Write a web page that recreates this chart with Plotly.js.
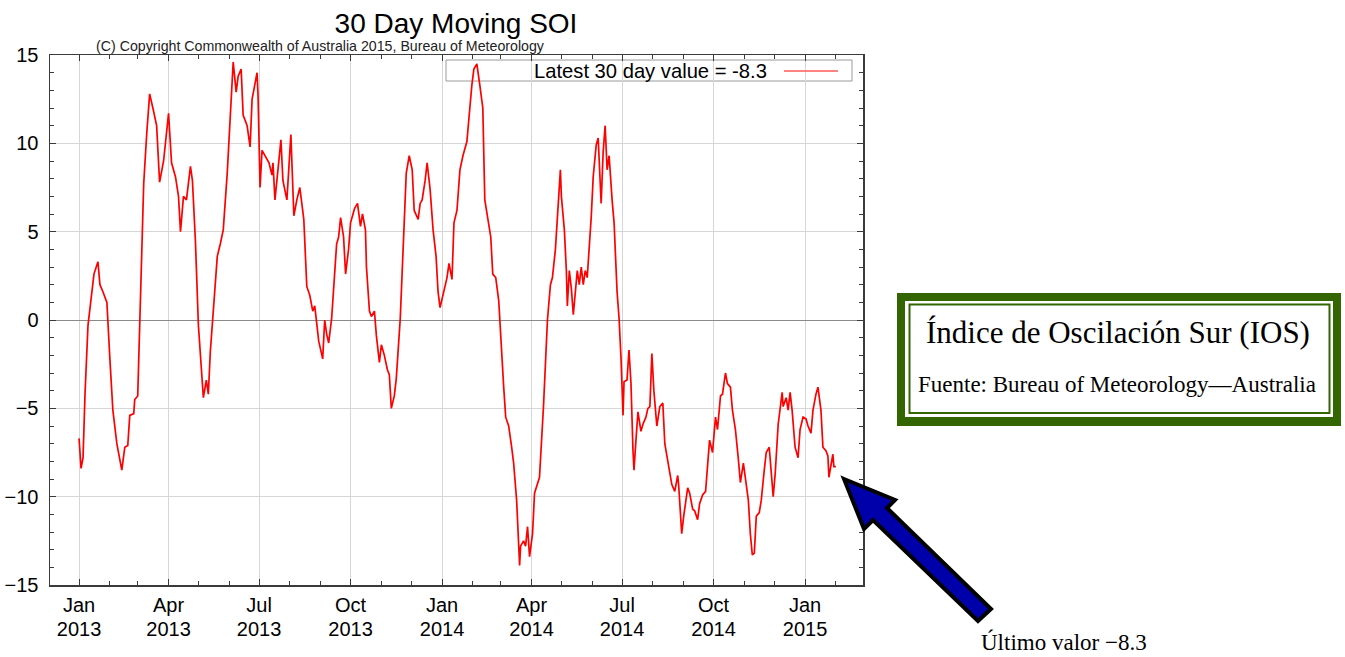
<!DOCTYPE html>
<html>
<head>
<meta charset="utf-8">
<script src="https://cdn.plot.ly/plotly-3.0.1.min.js"></script>
<style>html,body{margin:0;padding:0;background:#fff;}#chart{width:1345px;height:657px;}</style>
</head>
<body>
<div id="chart"></div>
<script>
// Day offsets from 2013-01-01
const days = [0,2,4,6,9,13,15,19,21,24,28,31,34,38,43,46,49,51,55,56,59,61,63,65,68,71,75,78,81,85,90,93,97,100,102,105,108,112,114,117,120,123,125,128,130,132,135,137,139,142,145,149,151,153,155,158,160,163,165,169,172,174,179,180,182,184,186,188,191,194,195,197,199,203,205,209,213,216,219,222,226,229,232,235,237,239,241,245,247,249,251,254,257,259,261,263,266,268,271,273,277,280,283,285,288,289,292,294,297,299,302,304,307,310,312,314,317,319,323,326,329,332,335,337,341,343,345,348,350,353,356,359,361,363,366,370,372,375,377,380,383,386,390,392,395,397,400,403,406,408,412,414,416,419,422,423,425,427,429,432,435,437,440,443,444,447,449,451,453,456,458,461,463,467,471,474,476,479,481,484,485,488,490,491,493,495,497,499,501,503,505,507,509,511,513,515,517,520,522,525,527,529,531,533,536,538,541,543,545,547,548,551,553,555,557,558,560,562,565,567,570,572,574,576,578,581,584,587,589,592,596,599,602,603,606,608,612,614,617,619,622,624,627,630,634,637,640,642,645,647,650,652,655,657,660,663,665,668,670,673,675,677,679,681,684,686,689,691,694,696,698,700,703,707,708,711,713,715,717,720,723,725,728,731,733,736,738,741,743,746,748,751,753,754,756,758,759,761];
// 30-day moving SOI values
const soi = [-6.7,-8.4,-7.8,-4.2,-0.3,1.6,2.6,3.3,2.0,1.6,1.0,-2.2,-5.1,-7.0,-8.5,-7.2,-7.1,-5.4,-5.3,-4.5,-4.3,-0.3,4.5,7.7,10.5,12.8,11.8,11.0,7.8,9.0,11.7,8.9,8.1,7.0,5.0,7.0,6.8,8.7,7.9,4.5,-0.3,-3.1,-4.4,-3.4,-4.2,-1.8,0.5,1.6,3.6,4.3,5.1,8.3,10.3,12.7,14.6,12.9,13.8,14.2,11.6,11.0,9.8,12.5,14.0,12.7,7.5,9.6,9.4,9.2,8.9,8.2,8.9,6.8,7.9,10.2,7.9,6.8,10.5,5.9,6.8,7.5,5.7,1.9,1.4,0.5,0.8,-0.1,-1.2,-2.2,0.0,-0.8,-1.3,0.1,2.6,4.3,4.7,5.8,4.7,2.6,4.0,5.5,6.3,6.6,5.3,6.0,5.1,3.0,0.5,0.2,0.5,-0.9,-2.4,-1.4,-2.0,-2.8,-3.1,-5.0,-4.3,-3.3,0.1,4.1,8.3,9.3,8.5,6.2,5.7,6.6,6.8,7.9,8.9,7.4,5.1,3.6,1.6,0.7,1.4,2.4,3.2,2.3,5.5,6.2,8.5,9.3,10.1,11.6,13.3,14.2,14.5,13.3,12.0,6.8,5.3,4.7,2.6,2.4,1.1,0.0,-1.7,-3.8,-5.5,-6.0,-7.2,-8.1,-10.2,-13.9,-12.8,-12.5,-12.8,-11.7,-13.4,-12.1,-9.8,-9.2,-8.9,-4.9,0.0,2.0,2.4,4.0,5.7,8.5,7.0,5.1,2.8,0.8,2.8,1.8,0.3,1.6,2.8,2.0,3.0,2.0,2.8,2.4,4.0,5.8,8.1,9.9,10.3,6.6,9.5,11.0,8.5,9.3,6.8,5.5,1.6,0.1,-2.2,-5.4,-3.5,-3.4,-1.7,-3.6,-7.4,-8.5,-6.8,-5.2,-6.3,-5.9,-5.5,-5.0,-4.9,-1.9,-4.0,-6.0,-4.9,-4.7,-7.0,-8.1,-9.3,-9.7,-8.8,-9.4,-12.1,-11.1,-9.5,-9.8,-10.7,-10.8,-11.3,-10.4,-9.9,-9.7,-6.8,-7.5,-5.5,-6.2,-4.3,-4.2,-3.0,-3.6,-3.8,-5.1,-6.2,-7.9,-9.2,-8.1,-8.9,-10.2,-12.1,-13.3,-13.2,-11.1,-10.9,-10.2,-8.5,-7.5,-7.2,-8.5,-10.0,-8.7,-5.9,-4.1,-4.9,-4.4,-5.1,-4.1,-5.1,-7.2,-7.8,-6.2,-5.5,-5.6,-6.0,-6.4,-5.1,-4.2,-3.8,-5.1,-7.2,-7.4,-7.7,-8.9,-8.3,-7.6,-8.3,-8.3];

const startDate = '2013-01-01';
const xRange = ['2012-12-02 19:00', '2015-02-28 07:00'];
const yRange = [-15, 15];
const titleText = '30 Day Moving SOI';
const copyrightText = '(C) Copyright Commonwealth of Australia 2015, Bureau of Meteorology';
const boxTitle = 'Índice de Oscilación Sur (IOS)';
const boxSource = 'Fuente: Bureau of Meteorology\u2014Australia';

const dates = days.map(d => new Date(Date.UTC(2013, 0, 1 + d)).toISOString().slice(0, 10));
const latest = soi[soi.length - 1];
const legendText = 'Latest 30 day value = ' + latest.toFixed(1);
const arrowText = 'Último valor \u2212' + Math.abs(latest).toFixed(1);

// pixel -> paper helpers (plot area: x 50..863, y 55..585)
const L = 50, R = 863, T = 55, B = 585;
const px = x => (x - L) / (R - L);
const py = y => (B - y) / (B - T);
const pathOf = pts => 'M ' + pts.map(p => px(p[0]).toFixed(5) + ',' + py(p[1]).toFixed(5)).join(' L ') + ' Z';
const rect = (x0, y0, x1, y1, extra) => Object.assign({type: 'rect', xref: 'paper', yref: 'paper', x0: px(x0), x1: px(x1), y0: py(y1), y1: py(y0)}, extra);

const sans = 'Liberation Sans, Arial, Helvetica, sans-serif';
const serif = 'Liberation Serif, Times New Roman, serif';
const axisColor = '#3a3a3a';
const gridColor = '#d6d6d6';

const trace = {
  x: dates, y: soi, type: 'scatter', mode: 'lines',
  line: {color: '#ff0000', width: 1.7}, hoverinfo: 'x+y', showlegend: false
};
// empty carrier so the year-label axis is drawn
const yearAxisTrace = {x: [], y: [], type: 'scatter', mode: 'lines', xaxis: 'x2', yaxis: 'y', showlegend: false, hoverinfo: 'skip'};

const arrowPts = [[844,479],[895,500],[887,508],[991,609],[978,621],[873,520],[864,529]];

const layout = {
  width: 1345, height: 657,
  margin: {l: L, r: 1345 - R, t: T, b: 657 - B, pad: 0},
  paper_bgcolor: '#ffffff', plot_bgcolor: '#ffffff',
  showlegend: false,
  title: {text: titleText, x: px(456), xref: 'paper', xanchor: 'center', y: 1 - 23 / 657, yref: 'container', yanchor: 'middle',
          font: {family: sans, size: 28, color: '#000'}},
  xaxis: {
    type: 'date', range: xRange, tick0: startDate, dtick: 'M3', tickformat: '%b',
    ticks: 'inside', ticklen: 6, tickwidth: 1, tickcolor: axisColor,
    showline: true, linecolor: axisColor, linewidth: 1.5, mirror: 'ticks',
    showgrid: true, gridcolor: gridColor, gridwidth: 1, zeroline: false,
    tickfont: {family: sans, size: 20, color: '#000'}, ticklabelstandoff: 1,
    minor: {dtick: 'M1', tick0: startDate, ticks: 'inside', ticklen: 4, tickcolor: axisColor, showgrid: false}
  },
  xaxis2: {
    type: 'date', range: xRange, overlaying: 'x', anchor: 'y', side: 'bottom',
    tick0: startDate, dtick: 'M3', tickformat: '%Y', ticks: '',
    showline: false, showgrid: false, zeroline: false,
    tickfont: {family: sans, size: 20, color: '#000'}, ticklabelstandoff: 30
  },
  yaxis: {
    range: yRange, tick0: 0, dtick: 5,
    ticks: 'inside', ticklen: 6, tickwidth: 1, tickcolor: axisColor,
    showline: true, linecolor: axisColor, linewidth: 1.5, mirror: 'ticks',
    showgrid: true, gridcolor: gridColor, gridwidth: 1,
    zeroline: true, zerolinecolor: '#8a8a8a', zerolinewidth: 1,
    tickfont: {family: sans, size: 20, color: '#000'}, ticklabelstandoff: 6,
    minor: {dtick: 1, ticks: 'inside', ticklen: 4, tickcolor: axisColor, showgrid: false}
  },
  shapes: [
    // legend box (between grid and data line)
    rect(446, 60, 852, 81, {line: {color: '#9a9a9a', width: 1}, fillcolor: '#ffffff', layer: 'between'}),
    {type: 'line', xref: 'paper', yref: 'paper', x0: px(784), x1: px(838), y0: py(71), y1: py(71), line: {color: '#ff5a5a', width: 1.5}, layer: 'above'},
    // green framed box
    rect(897, 293, 1341, 426, {line: {width: 0}, fillcolor: '#336600'}),
    rect(905, 301, 1333, 417, {line: {width: 0}, fillcolor: '#ffffff'}),
    rect(909.5, 304.5, 1329.5, 413, {line: {color: '#336600', width: 2}, fillcolor: 'rgba(0,0,0,0)'}),
    // block arrow
    {type: 'path', xref: 'paper', yref: 'paper', path: pathOf(arrowPts), fillcolor: '#0000aa', line: {color: '#000000', width: 4}, layer: 'above'}
  ],
  annotations: [
    {text: copyrightText, xref: 'paper', yref: 'paper', x: px(320), y: py(46), xanchor: 'center', yanchor: 'middle', showarrow: false,
     font: {family: sans, size: 14.2, color: '#222'}},
    {text: legendText, xref: 'paper', yref: 'paper', x: px(650), y: py(71), xanchor: 'center', yanchor: 'middle', showarrow: false,
     font: {family: sans, size: 20.2, color: '#000'}},
    {text: boxTitle, xref: 'paper', yref: 'paper', x: px(1118), y: py(332), xanchor: 'center', yanchor: 'middle', showarrow: false,
     font: {family: serif, size: 31, color: '#000'}},
    {text: boxSource, xref: 'paper', yref: 'paper', x: px(1117), y: py(384), xanchor: 'center', yanchor: 'middle', showarrow: false,
     font: {family: serif, size: 23, color: '#000'}},
    {text: arrowText, xref: 'paper', yref: 'paper', x: px(1064), y: py(642), xanchor: 'center', yanchor: 'middle', showarrow: false,
     font: {family: serif, size: 23, color: '#000'}}
  ]
};

Plotly.newPlot('chart', [trace, yearAxisTrace], layout, {staticPlot: true, displayModeBar: false});
</script>
</body>
</html>
